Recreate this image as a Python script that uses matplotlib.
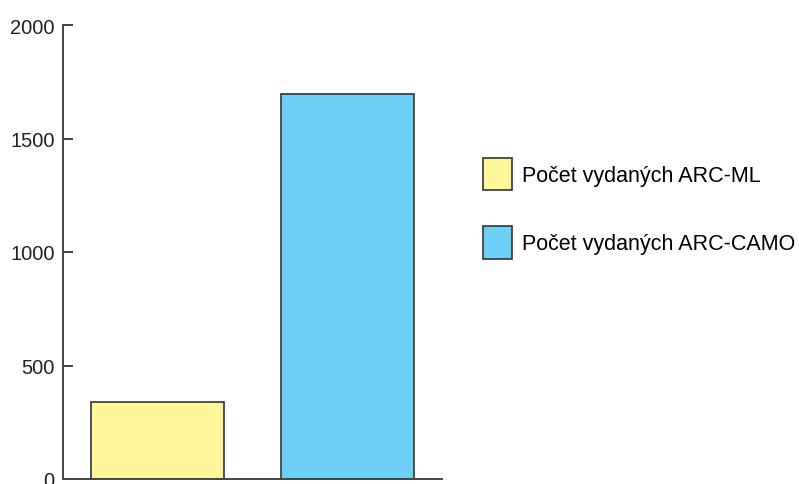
import matplotlib.pyplot as plt
from matplotlib.patches import Patch

# --- data ---
labels = ["Počet vydaných ARC-ML", "Počet vydaných ARC-CAMO"]
values = [340, 1695]
colors = ["#FFF59A", "#6DCFF6"]
yticks = [0, 500, 1000, 1500, 2000]

plt.rcParams['font.family'] = ['Liberation Sans', 'DejaVu Sans']

fig = plt.figure(figsize=(7.99, 4.85), dpi=100)
ax = fig.add_axes([63 / 799, 1 - 480 / 485, (442 - 63) / 799, (480 - 26) / 485])

ax.bar(range(len(values)), values, width=0.7, color=colors,
       edgecolor="#333333", linewidth=1.2)

ax.set_xlim(-0.5, 1.5)
ax.set_ylim(0, 2000)
ax.set_yticks(yticks)
ax.set_xticks([])
ax.tick_params(axis='y', direction='in', length=7, width=1.2,
               labelsize=14.5, colors="#222222", pad=6)

for side in ['top', 'right']:
    ax.spines[side].set_visible(False)
for side in ['left', 'bottom']:
    ax.spines[side].set_linewidth(1.4)
    ax.spines[side].set_color("#444444")

handles = [Patch(facecolor=c, edgecolor="#333333", linewidth=1.2) for c in colors]
fig.legend(handles, labels, loc='upper left',
           bbox_to_anchor=(474 / 799, 1 - 150 / 485),
           frameon=False, fontsize=15.5, handlelength=1.35, handleheight=1.95,
           handletextpad=0.5, labelspacing=1.68, borderaxespad=0)

fig.savefig("out.png", dpi=100)
